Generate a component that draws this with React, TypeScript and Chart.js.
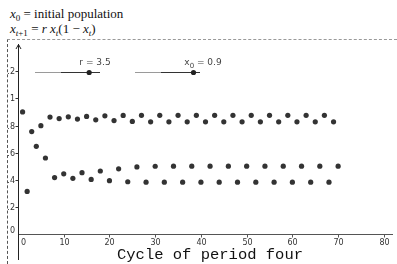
import React, { useEffect, useRef } from "react";
import { Chart, registerables } from "chart.js";

Chart.register(...registerables);

// ---- data ----
const periods = [
  1, 2, 3, 4, 5, 6, 7, 8, 9, 10, 11, 12, 13, 14, 15, 16, 17, 18, 19, 20,
  21, 22, 23, 24, 25, 26, 27, 28, 29, 30, 31, 32, 33, 34, 35, 36, 37, 38, 39, 40,
  41, 42, 43, 44, 45, 46, 47, 48, 49, 50, 51, 52, 53, 54, 55, 56, 57, 58, 59, 60,
  61, 62, 63, 64, 65, 66, 67, 68, 69, 70,
];
const populations = [
  0.9, 0.315, 0.755, 0.647, 0.799, 0.561, 0.862, 0.417, 0.851, 0.444,
  0.864, 0.411, 0.847, 0.453, 0.867, 0.403, 0.842, 0.465, 0.871, 0.394,
  0.836, 0.481, 0.874, 0.386, 0.83, 0.495, 0.875, 0.383, 0.827, 0.5,
  0.875, 0.383, 0.827, 0.501, 0.875, 0.383, 0.827, 0.501, 0.875, 0.383,
  0.827, 0.501, 0.875, 0.383, 0.827, 0.501, 0.875, 0.383, 0.827, 0.501,
  0.875, 0.383, 0.827, 0.501, 0.875, 0.383, 0.827, 0.501, 0.875, 0.383,
  0.827, 0.501, 0.875, 0.383, 0.827, 0.501, 0.875, 0.383, 0.827, 0.501,
];
const xTicks = [0, 10, 20, 30, 40, 50, 60, 70, 80];
const xTickLabels = ["0", "10", "20", "30", "40", "50", "60", "70", "80"];
const yTicks = [0, 0.2, 0.4, 0.6, 0.8, 1, 1.2];
const yTickLabels = ["0", ".2", ".4", ".6", ".8", "1", "1.2"];
const rValue = 3.5;
const rRange = [1, 4];
const x0Value = 0.9;
const x0Range = [0, 1];
const chartTitle = "Cycle of period four";

function drawSlider(
  ctx: CanvasRenderingContext2D,
  x1: number,
  x2: number,
  y: number,
  value: number,
  range: number[],
  labelX: number,
  labelY: number,
  drawLabel: (ctx: CanvasRenderingContext2D, cx: number, cy: number) => void
) {
  const split = x1 + (x2 - x1) * 0.4;
  ctx.lineWidth = 1;
  ctx.strokeStyle = "#9a9a9a";
  ctx.beginPath();
  ctx.moveTo(x1, y + 0.5);
  ctx.lineTo(split, y + 0.5);
  ctx.stroke();
  ctx.strokeStyle = "#333";
  ctx.beginPath();
  ctx.moveTo(split, y + 0.5);
  ctx.lineTo(x2, y + 0.5);
  ctx.stroke();
  const t = (value - range[0]) / (range[1] - range[0]);
  const dx = x1 + (x2 - x1) * t;
  ctx.fillStyle = "#222";
  ctx.beginPath();
  ctx.arc(dx, y + 0.5, 2.6, 0, Math.PI * 2);
  ctx.fill();
  drawLabel(ctx, labelX, labelY);
}

const maplePlugin = {
  id: "mapleAxes",
  beforeDatasetsDraw(chart: any) {
    const { ctx, chartArea: a, scales } = chart;
    const xs = scales.x;
    const ys = scales.y;
    ctx.save();
    const ax = Math.round(xs.getPixelForValue(0)) + 0.5;
    const ay = Math.round(ys.getPixelForValue(0)) + 0.5;

    // x axis
    ctx.lineWidth = 1;
    ctx.strokeStyle = "#555";
    ctx.beginPath();
    ctx.moveTo(ax, ay);
    ctx.lineTo(a.right, ay);
    ctx.stroke();

    // y axis with arrow
    ctx.strokeStyle = "#222";
    ctx.beginPath();
    ctx.moveTo(ax, a.top);
    ctx.lineTo(ax, a.bottom);
    ctx.stroke();
    ctx.beginPath();
    ctx.moveTo(ax - 2.5, a.top + 5);
    ctx.lineTo(ax, a.top + 0.5);
    ctx.lineTo(ax + 2.5, a.top + 5);
    ctx.stroke();

    // x ticks
    ctx.font = "8px 'DejaVu Sans'";
    ctx.fillStyle = "#333";
    ctx.textAlign = "center";
    ctx.textBaseline = "middle";
    ctx.strokeStyle = "#555";
    xTicks.forEach((v, i) => {
      const px = Math.round(xs.getPixelForValue(v)) + 0.5;
      if (v !== 0) {
        ctx.beginPath();
        ctx.moveTo(px, ay);
        ctx.lineTo(px, ay + 3);
        ctx.stroke();
      }
      ctx.fillText(xTickLabels[i], v === 0 ? px + 5 : px, ay + 8);
    });

    // y ticks
    ctx.textAlign = "right";
    ctx.strokeStyle = "#333";
    yTicks.forEach((v, i) => {
      const py = Math.round(ys.getPixelForValue(v)) + 0.5;
      if (v !== 0) {
        ctx.beginPath();
        ctx.moveTo(ax - 3, py);
        ctx.lineTo(ax, py);
        ctx.stroke();
      }
      ctx.fillText(yTickLabels[i], ax - 3.5, v === 0 ? py - 4 : py);
    });

    // sliders
    const labelFont = "9px 'DejaVu Sans'";
    drawSlider(ctx, 27, 92, 32, rValue, rRange, 87, 23, (c, cx, cy) => {
      c.font = labelFont;
      c.fillStyle = "#444";
      c.textAlign = "center";
      c.textBaseline = "middle";
      c.fillText("r = " + rValue, cx, cy);
    });
    drawSlider(ctx, 127, 192, 32, x0Value, x0Range, 195, 23, (c, cx, cy) => {
      c.font = labelFont;
      c.fillStyle = "#444";
      c.textBaseline = "middle";
      c.textAlign = "left";
      const rest = " = " + x0Value;
      const wx = c.measureText("x").width;
      c.font = "7px 'DejaVu Sans'";
      const w0 = c.measureText("0").width;
      c.font = labelFont;
      const wr = c.measureText(rest).width;
      const start = cx - (wx + w0 + wr) / 2;
      c.fillText("x", start, cy);
      c.font = "7px 'DejaVu Sans'";
      c.fillText("0", start + wx, cy + 3);
      c.font = labelFont;
      c.fillText(rest, start + wx + w0, cy);
    });

    // title
    ctx.font = "15.5px 'Liberation Mono'";
    ctx.fillStyle = "#111";
    ctx.textAlign = "center";
    ctx.textBaseline = "middle";
    ctx.fillText(chartTitle, 202, 215);
    ctx.restore();
  },
};

export default function App() {
  const canvasRef = useRef<HTMLCanvasElement | null>(null);

  useEffect(() => {
    if (!canvasRef.current) return;
    const chart = new Chart(canvasRef.current, {
      type: "scatter",
      data: {
        datasets: [
          {
            data: periods.map((p, i) => ({ x: p, y: populations[i] })),
            pointRadius: 2.6,
            pointBackgroundColor: "#333",
            pointBorderWidth: 0,
            backgroundColor: "#333",
          },
        ],
      },
      options: {
        animation: false,
        responsive: false,
        events: [],
        layout: { padding: { left: 10, right: 0, top: 0, bottom: 2 } },
        scales: {
          x: { type: "linear", min: 0, max: 82, display: false },
          y: { type: "linear", min: -0.19, max: 1.4, display: false },
        },
        plugins: { legend: { display: false }, tooltip: { enabled: false } },
      },
      plugins: [maplePlugin],
    });
    return () => chart.destroy();
  }, []);

  const mi: React.CSSProperties = { fontStyle: "italic" };
  const sub: React.CSSProperties = {
    fontSize: "9px",
    position: "relative",
    top: "3px",
    lineHeight: 0,
  };

  return (
    <div style={{ position: "absolute", left: 0, top: 0, width: 397, height: 264, overflow: "hidden", background: "#fff" }}>
      <div
        style={{
          position: "absolute",
          left: 10,
          top: 6,
          fontFamily: "'Liberation Serif', serif",
          fontSize: "13px",
          lineHeight: "15px",
          color: "#111",
          whiteSpace: "nowrap",
        }}
      >
        <div>
          <span style={mi}>x</span>
          <span style={sub}>0</span> = initial population
        </div>
        <div>
          <span style={mi}>x</span>
          <span style={sub}>
            <span style={mi}>t</span>+1
          </span>{" "}
          = <span style={mi}>r</span> <span style={mi}>x</span>
          <span style={sub}>
            <span style={mi}>t</span>
          </span>
          (1 − <span style={mi}>x</span>
          <span style={sub}>
            <span style={mi}>t</span>
          </span>
          )
        </div>
      </div>
      <div
        style={{
          position: "absolute",
          left: 7,
          top: 39,
          width: 390,
          height: 225,
          borderTop: "1px dashed #999",
          borderLeft: "1px dashed #555",
          boxSizing: "border-box",
        }}
      />
      <canvas
        ref={canvasRef}
        width={389}
        height={224}
        style={{ position: "absolute", left: 8, top: 40, width: 389, height: 224 }}
      />
    </div>
  );
}
